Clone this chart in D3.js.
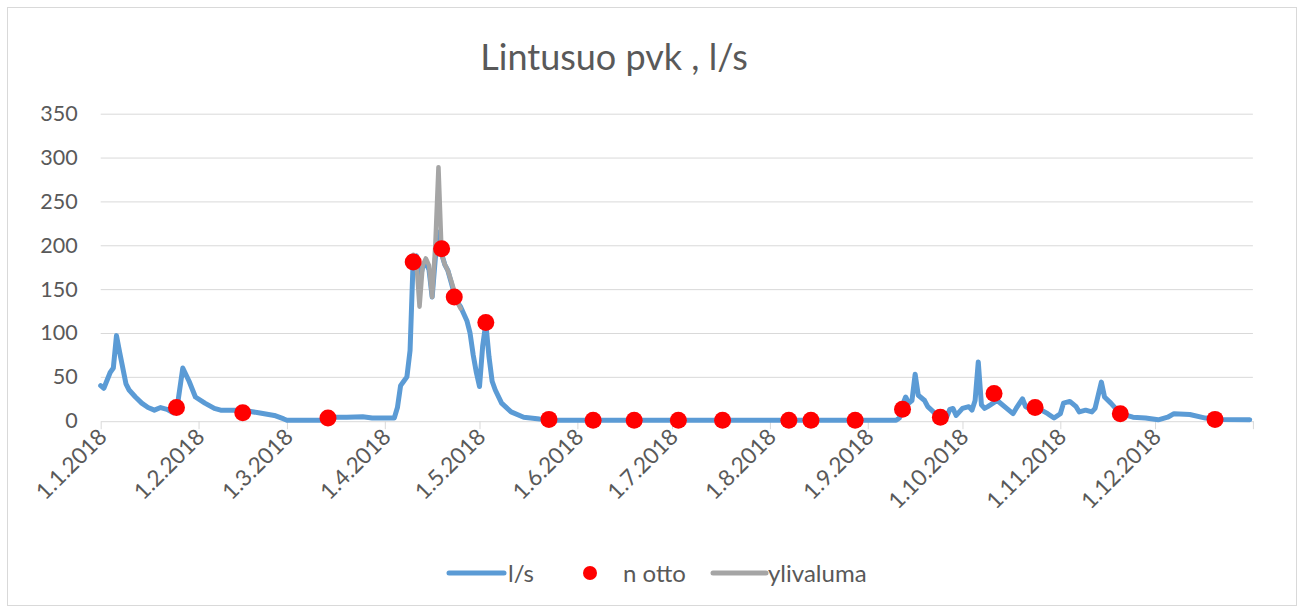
<!DOCTYPE html>
<html>
<head>
<meta charset="utf-8">
<script src="https://cdn.jsdelivr.net/npm/d3@7"></script>
<style>
  body { margin: 0; background: #fff; }
  text { font-family: Lato, "Open Sans", sans-serif; fill: #595959; }
</style>
</head>
<body>
<svg id="chart" width="1304" height="614"></svg>
<script>
// l/s series, daily flow (date, l/s)
var lsSeries = [
  ["2018-01-01", 40], ["2018-01-02", 37], ["2018-01-04", 55], ["2018-01-05", 60],
  ["2018-01-06", 97], ["2018-01-07", 78], ["2018-01-09", 42], ["2018-01-10", 35],
  ["2018-01-12", 27], ["2018-01-14", 20], ["2018-01-16", 15], ["2018-01-18", 12],
  ["2018-01-20", 15], ["2018-01-22", 13], ["2018-01-24", 9], ["2018-01-25", 10],
  ["2018-01-27", 60], ["2018-01-29", 45], ["2018-01-31", 27], ["2018-02-03", 20],
  ["2018-02-06", 14], ["2018-02-08", 12], ["2018-02-15", 12], ["2018-02-20", 9],
  ["2018-02-25", 6], ["2018-02-28", 2], ["2018-03-01", 0.5], ["2018-03-13", 0.5],
  ["2018-03-15", 4], ["2018-03-20", 4], ["2018-03-25", 4.5], ["2018-03-28", 3],
  ["2018-04-02", 3], ["2018-04-04", 3], ["2018-04-05", 15], ["2018-04-06", 40],
  ["2018-04-07", 45], ["2018-04-08", 50], ["2018-04-09", 80], ["2018-04-10", 185],
  ["2018-04-11", 188], ["2018-04-12", 160], ["2018-04-13", 175], ["2018-04-14", 180],
  ["2018-04-15", 172], ["2018-04-16", 141], ["2018-04-17", 185], ["2018-04-18", 215],
  ["2018-04-19", 190], ["2018-04-20", 178], ["2018-04-21", 171], ["2018-04-22", 158],
  ["2018-04-23", 145], ["2018-04-24", 135], ["2018-04-25", 130], ["2018-04-26", 122],
  ["2018-04-27", 114], ["2018-04-28", 100], ["2018-04-29", 75], ["2018-04-30", 55],
  ["2018-05-01", 39], ["2018-05-02", 85], ["2018-05-03", 111], ["2018-05-04", 73],
  ["2018-05-05", 45], ["2018-05-06", 35], ["2018-05-08", 20], ["2018-05-11", 10],
  ["2018-05-15", 4], ["2018-05-20", 2], ["2018-05-25", 0.5], ["2018-09-10", 0.5],
  ["2018-09-11", 3], ["2018-09-12", 18], ["2018-09-13", 27], ["2018-09-14", 20],
  ["2018-09-15", 23], ["2018-09-16", 53], ["2018-09-17", 29], ["2018-09-19", 23],
  ["2018-09-20", 16], ["2018-09-23", 6], ["2018-09-26", 4], ["2018-09-27", 13],
  ["2018-09-28", 14], ["2018-09-29", 6], ["2018-10-01", 14], ["2018-10-03", 16],
  ["2018-10-04", 12], ["2018-10-05", 23], ["2018-10-06", 67], ["2018-10-07", 18],
  ["2018-10-08", 14], ["2018-10-09", 16], ["2018-10-12", 23], ["2018-10-15", 14],
  ["2018-10-17", 8], ["2018-10-18", 14], ["2018-10-20", 25], ["2018-10-21", 16],
  ["2018-10-22", 14], ["2018-10-26", 12], ["2018-10-28", 8], ["2018-10-30", 3],
  ["2018-11-01", 8], ["2018-11-02", 20], ["2018-11-04", 22], ["2018-11-06", 16],
  ["2018-11-07", 10], ["2018-11-09", 12], ["2018-11-11", 10], ["2018-11-12", 14],
  ["2018-11-14", 44], ["2018-11-15", 27], ["2018-11-17", 20], ["2018-11-20", 8],
  ["2018-11-24", 4], ["2018-11-28", 3], ["2018-12-02", 1], ["2018-12-05", 4],
  ["2018-12-07", 8], ["2018-12-12", 7], ["2018-12-17", 3], ["2018-12-21", 1.5],
  ["2018-12-31", 1]
];

// n otto, sampling points
var ottoSeries = [
  ["2018-01-25", 15], ["2018-02-15", 9], ["2018-03-14", 3], ["2018-04-10", 181],
  ["2018-04-19", 196], ["2018-04-23", 141], ["2018-05-03", 112], ["2018-05-23", 1.5],
  ["2018-06-06", 0.5], ["2018-06-19", 0.5], ["2018-07-03", 0.5], ["2018-07-17", 0.5],
  ["2018-08-07", 0.5], ["2018-08-14", 0.5], ["2018-08-28", 0.5], ["2018-09-12", 13],
  ["2018-09-24", 4], ["2018-10-11", 31], ["2018-10-24", 15], ["2018-11-20", 8],
  ["2018-12-20", 1.5]
];

// ylivaluma, overflow during the spring peak
var ylivalumaSeries = [
  ["2018-04-10", 189], ["2018-04-11", 181], ["2018-04-12", 130], ["2018-04-13", 177],
  ["2018-04-14", 185], ["2018-04-15", 177], ["2018-04-16", 141], ["2018-04-17", 200],
  ["2018-04-18", 289], ["2018-04-19", 190], ["2018-04-20", 178], ["2018-04-21", 171],
  ["2018-04-22", 160], ["2018-04-23", 148], ["2018-04-24", 135], ["2018-04-25", 128]
];

var yTicks = [0, 50, 100, 150, 200, 250, 300, 350];
var legendLabels = ["l/s", "n otto", "ylivaluma"];

var margin = {top: 113.7, right: 51.1, bottom: 193.3, left: 100.7};
var W = 1304, H = 614;
var width = W - margin.left - margin.right;
var height = H - margin.top - margin.bottom;

var parseDate = d3.utcParse("%Y-%m-%d");
var fmtTick = d3.utcFormat("%-d.%-m.%Y");

var svg = d3.select("#chart");

// outer chart border
svg.append("rect")
  .attr("x", 7.5).attr("y", 7.5)
  .attr("width", 1289).attr("height", 598)
  .attr("fill", "#fff")
  .attr("stroke", "#d9d9d9");

svg.append("text")
  .attr("x", 614).attr("y", 70)
  .attr("text-anchor", "middle")
  .style("font-size", "36px")
  .text("Lintusuo pvk , l/s");

var g = svg.append("g")
  .attr("transform", "translate(" + margin.left + "," + margin.top + ")");

var x = d3.scaleUtc()
  .domain([parseDate("2018-01-01"), parseDate("2019-01-01")])
  .range([0, width]);

var y = d3.scaleLinear()
  .domain([0, 350])
  .range([height, 0]);

// gridlines
g.selectAll(".grid")
  .data(yTicks.slice(1))
  .enter().append("line")
    .attr("class", "grid")
    .attr("x1", 0).attr("x2", width)
    .attr("y1", function(d) { return y(d) + 0.5; })
    .attr("y2", function(d) { return y(d) + 0.5; })
    .attr("stroke", "#d9d9d9")
    .attr("stroke-width", 1);

// y axis labels
var yAxis = g.append("g")
  .call(d3.axisLeft(y).tickValues(yTicks).tickSize(0).tickPadding(23));
yAxis.select(".domain").remove();
yAxis.selectAll("text")
  .style("font-size", "21.5px")
  .style("font-family", "Lato, sans-serif")
  .attr("fill", "#595959");

// x axis
var months = d3.utcMonth.range(parseDate("2018-01-01"), parseDate("2019-01-02"));
var xAxis = g.append("g")
  .attr("transform", "translate(0," + (height + 0.5) + ")")
  .call(d3.axisBottom(x)
    .tickValues(months)
    .tickSize(8)
    .tickSizeOuter(0)
    .tickFormat(function(d) { return d.getUTCFullYear() === 2019 ? "" : fmtTick(d); }));
xAxis.select(".domain").attr("stroke", "#d9d9d9");
xAxis.selectAll(".tick line").attr("stroke", "#d9d9d9");
xAxis.selectAll("text")
  .attr("x", 0).attr("y", 0).attr("dy", 0)
  .attr("transform", "translate(7,17) rotate(-45)")
  .attr("text-anchor", "end")
  .style("font-size", "22.5px")
  .style("font-family", "Lato, sans-serif")
  .attr("fill", "#595959");

var line = d3.line()
  .x(function(d) { return x(parseDate(d[0])); })
  .y(function(d) { return y(d[1]); });

g.append("path")
  .datum(lsSeries)
  .attr("fill", "none")
  .attr("stroke", "#5b9bd5")
  .attr("stroke-width", 5)
  .attr("stroke-linejoin", "round")
  .attr("stroke-linecap", "round")
  .attr("d", line);

g.append("path")
  .datum(ylivalumaSeries)
  .attr("fill", "none")
  .attr("stroke", "#a5a5a5")
  .attr("stroke-width", 4.5)
  .attr("stroke-linejoin", "round")
  .attr("stroke-linecap", "round")
  .attr("d", line);

g.selectAll(".otto")
  .data(ottoSeries)
  .enter().append("circle")
    .attr("class", "otto")
    .attr("cx", function(d) { return x(parseDate(d[0])); })
    .attr("cy", function(d) { return y(d[1]); })
    .attr("r", 8.5)
    .attr("fill", "#ff0000");

// legend
var legend = svg.append("g").attr("transform", "translate(0,573)");
legend.append("line")
  .attr("x1", 449).attr("x2", 504)
  .attr("stroke", "#5b9bd5").attr("stroke-width", 5).attr("stroke-linecap", "round");
legend.append("text").attr("x", 508).attr("y", 9).style("font-size", "24px").text(legendLabels[0]);
legend.append("circle").attr("cx", 590).attr("cy", 0).attr("r", 7).attr("fill", "#ff0000");
legend.append("text").attr("x", 623).attr("y", 9).style("font-size", "24px").text(legendLabels[1]);
legend.append("line")
  .attr("x1", 713).attr("x2", 766)
  .attr("stroke", "#a5a5a5").attr("stroke-width", 5).attr("stroke-linecap", "round");
legend.append("text").attr("x", 768).attr("y", 9).style("font-size", "24px").text(legendLabels[2]);
</script>
</body>
</html>
